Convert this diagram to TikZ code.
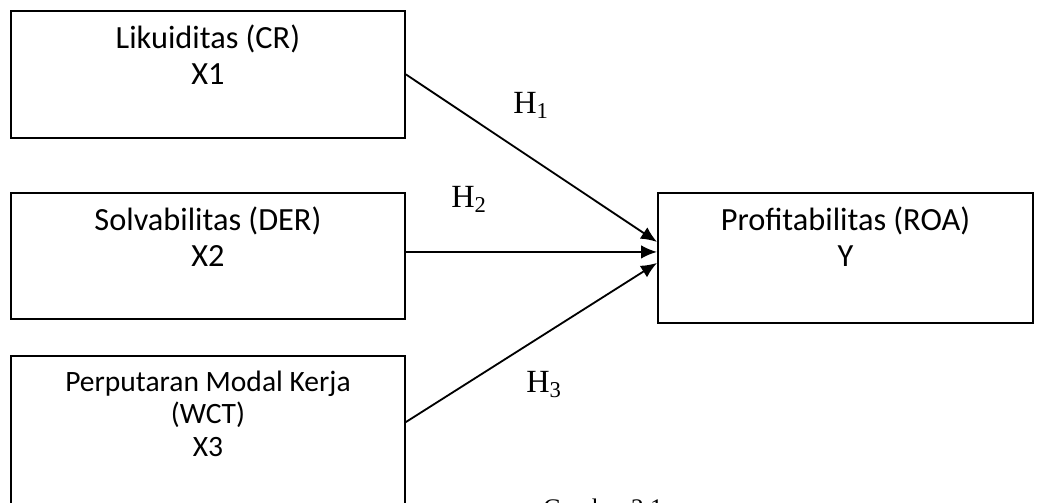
\documentclass[tikz,border=0pt]{standalone}
\usepackage{fontspec}
\setmainfont{Carlito}
\newfontfamily\hfont{Liberation Serif}
\usetikzlibrary{arrows.meta,positioning}

\begin{document}
\begin{tikzpicture}[x=0.025cm,y=-0.025cm,
  box/.style={draw=black, line width=1.3pt, inner sep=0pt},
  boxtext/.style={inner sep=0pt, align=center, font=\fontsize{23}{26}\selectfont},
  hyp/.style={inner sep=0pt, anchor=base west, font=\hfont\fontsize{23}{26}\selectfont},
  arr/.style={black, line width=1.3pt, -{Latex[length=0.4cm,width=0.34cm]}}]

\clip (0,0) rectangle (1040,502);

% BOXES
  \node[box, anchor=north west, minimum width=9.85cm, minimum height=3.175cm] (x1) at (10,10) {};
  \node[box, anchor=north west, minimum width=9.85cm, minimum height=3.15cm] (x2) at (10,192) {};
  \node[box, anchor=north west, minimum width=9.85cm, minimum height=4.75cm] (x3) at (10,355) {};
  \node[box, anchor=north west, minimum width=9.375cm, minimum height=3.25cm] (y) at (657,192) {};

% TEXTS
  \node[boxtext, below=0.36cm of x1.north] (x1txt) {Likuiditas (CR)\\X1};
  \node[boxtext, below=0.36cm of x2.north] (x2txt) {Solvabilitas (DER)\\X2};
  \node[boxtext, below=0.36cm of y.north] (ytxt) {Profitabilitas (ROA)\\Y};
  \node[boxtext, below=0.38cm of x3.north, font=\fontsize{21}{23.4}\selectfont] (x3txt) {Perputaran Modal Kerja\\(WCT)\\X3};

% ARROWS
  \draw[arr] (x1.east) -- ([yshift=0.4cm]y.west);
  \draw[arr] ([yshift=0.1cm]x2.east) -- ([yshift=0.15cm]y.west);
  \draw[arr] ([yshift=-1.675cm]x3.north east) -- ([yshift=-0.125cm]y.west);

% LABELS
  \node[hyp] (h1) at (513,113) {H\textsubscript{1}};
  \node[hyp] (h2) at (451,207) {H\textsubscript{2}};
  \node[hyp] (h3) at (526,392) {H\textsubscript{3}};

  \node[hyp, font=\hfont\fontsize{18}{22}\selectfont] (cap) at (543,516) {Gambar 2.1};
\end{tikzpicture}
\end{document}
